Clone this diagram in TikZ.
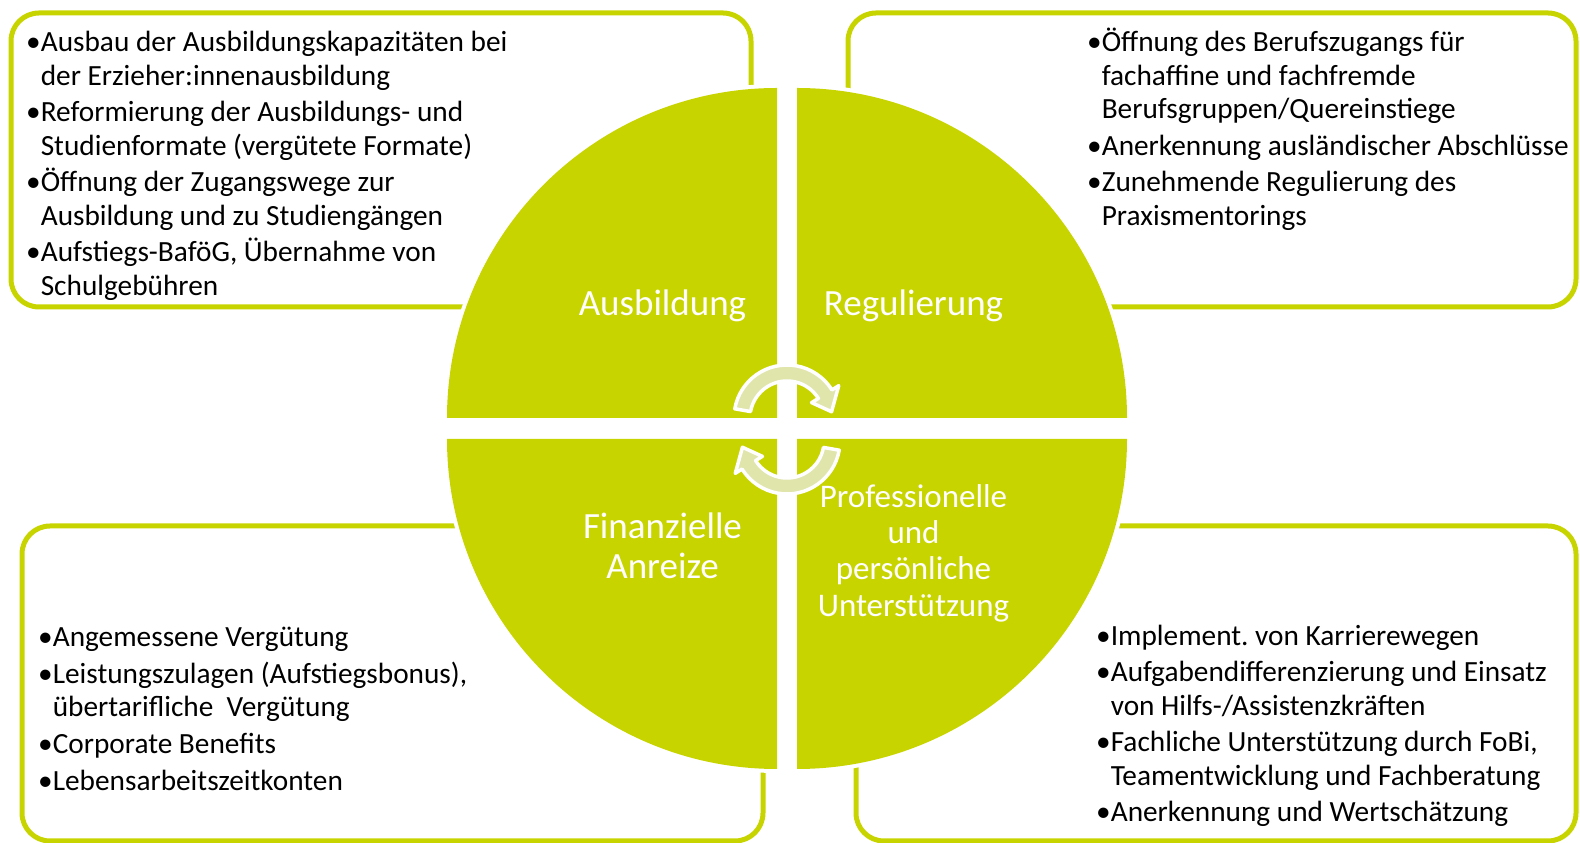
\documentclass[tikz,border=0pt]{standalone}
\usepackage{fontspec}
\setmainfont{Carlito}
\definecolor{lime}{RGB}{200,212,0}
\definecolor{arrowfill}{RGB}{224,229,172}
\tikzset{panel/.style={draw=lime, line width=5pt, rounded corners=28pt}}
\tikzset{quad/.style={fill=lime}}
\tikzset{halo/.style={fill=white}}
\tikzset{cyc/.style={fill=arrowfill, draw=white, line width=3.5pt, line join=round}}
\tikzset{items/.style={anchor=north west, inner sep=0pt, text width=560pt, align=flush left,
    font=\fontsize{29.3}{33.3}\selectfont}}
\tikzset{lbl/.style={text=white, inner sep=0pt, text width=260pt, align=flush center}}
\newcommand{\topstrut}{\vrule height 25pt width 0pt}
\newcommand{\hang}{\hphantom{•}}

\begin{document}
\begin{tikzpicture}[x=1pt, y=1pt, line join = round]
\useasboundingbox (0,0) rectangle (1580,843);

% frames round the four fields
\draw[panel] (11,536) rectangle (751,830);
\draw[panel] (848,536) rectangle (1576,830);
\draw[panel] (22,2) rectangle (763,317);
\draw[panel] (856,2) rectangle (1576,317);

% the circle of four quarters
\foreach \cx/\cy/\a in {777/425/90, 797/425/0, 777/404/180, 797/404/270}
    \fill[halo] (\cx,\cy) -- ++(\a:334) arc[start angle=\a, delta angle=90, radius=334] -- cycle;
\foreach \cx/\cy/\a in {777/425/90, 797/425/0, 777/404/180, 797/404/270}
    \fill[quad] (\cx,\cy) -- ++(\a:330) arc[start angle=\a, delta angle=90, radius=330] -- cycle;

% cycle arrows
\begin{scope}[shift={(787,425)}]
    \draw[cyc] (170:53) arc[start angle=170, end angle=32, radius=53] -- (32:61) -- (8:45)
        -- (32:29) -- (32:37) arc[start angle=32, end angle=170, radius=37] -- cycle;
\end{scope}
\begin{scope}[shift={(787,402)}, rotate=180]
    \draw[cyc] (170:53) arc[start angle=170, end angle=32, radius=53] -- (32:61) -- (8:45)
        -- (32:29) -- (32:37) arc[start angle=32, end angle=170, radius=37] -- cycle;
\end{scope}

% labels in the quarters
\node[lbl, anchor=base, font=\fontsize{37}{40}\selectfont] (ausb) at (662.5,527) {Ausbildung};
\node[lbl, anchor=base, font=\fontsize{37}{40}\selectfont] (regu) at (913.5,527) {Regulierung};
\node[lbl, anchor=north, font=\fontsize{37}{40}\selectfont] (fina) at (662.5,330)
    {\topstrut Finanzielle\\Anreize};
\node[lbl, anchor=north, font=\fontsize{33}{36.3}\selectfont] (prof) at (913.5,361)
    {\topstrut Professionelle\\und\\persönliche\\Unterstützung};

% bullet lists
\node[items] (ausb-txt) at (26,816.3) {\topstrut •Ausbau der Ausbildungskapazitäten bei\\
    \hang der Erzieher:innenausbildung\\[3.4pt]
    •Reformierung der Ausbildungs- und\\
    \hang Studienformate (vergütete Formate)\\[3.4pt]
    •Öffnung der Zugangswege zur\\
    \hang Ausbildung und zu Studiengängen\\[3.4pt]
    •Aufstiegs-BaföG, Übernahme von\\
    \hang Schulgebühren};

\node[items] (regu-txt) at (1087,816.3) {\topstrut •Öffnung des Berufszugangs für\\
    \hang fachaffine und fachfremde\\
    \hang Berufsgruppen/Quereinstiege\\[3.4pt]
    •Anerkennung ausländischer Abschlüsse\\[3.4pt]
    •Zunehmende Regulierung des\\
    \hang Praxismentorings};

\node[items] (fina-txt) at (38,221.5) {\topstrut •Angemessene Vergütung\\[3.4pt]
    •Leistungszulagen (Aufstiegsbonus),\\
    \hang übertarifliche\ \ Vergütung\\[3.4pt]
    •Corporate Benefits\\[3.4pt]
    •Lebensarbeitszeitkonten};

\node[items] (prof-txt) at (1096,223) {\topstrut •Implement.\ von Karrierewegen\\[3.4pt]
    •Aufgabendifferenzierung und Einsatz\\
    \hang von Hilfs-/Assistenzkräften\\[3.4pt]
    •Fachliche Unterstützung durch FoBi,\\
    \hang Teamentwicklung und Fachberatung\\[3.4pt]
    •Anerkennung und Wertschätzung};

\end{tikzpicture}
\end{document}
